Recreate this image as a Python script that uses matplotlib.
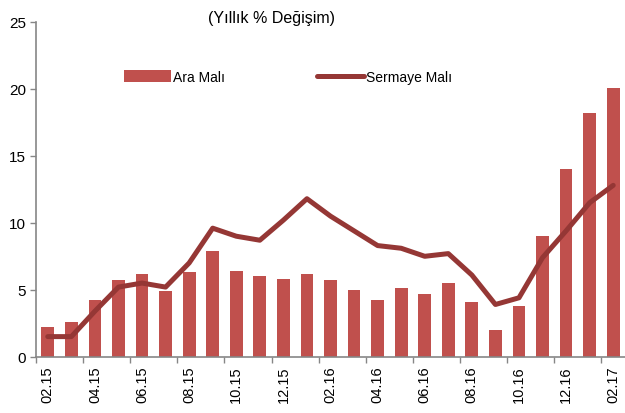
import numpy as np
import matplotlib
matplotlib.use('Agg')
from matplotlib import pyplot as plt

plt.rcParams['font.family'] = ['Liberation Sans', 'DejaVu Sans']

# aylar 02.15 - 02.17
months = ['02.15', '03.15', '04.15', '05.15', '06.15', '07.15', '08.15', '09.15', '10.15',
          '11.15', '12.15', '01.16', '02.16', '03.16', '04.16', '05.16', '06.16', '07.16',
          '08.16', '09.16', '10.16', '11.16', '12.16', '01.17', '02.17']
ara_mali = [2.2, 2.6, 4.2, 5.7, 6.2, 4.9, 6.3, 7.9, 6.4, 6.0, 5.8, 6.2,
            5.7, 5.0, 4.2, 5.1, 4.7, 5.5, 4.1, 2.0, 3.8, 9.0, 14.0, 18.2, 20.1]
sermaye_mali = [1.5, 1.5, 3.4, 5.2, 5.5, 5.2, 7.0, 9.6, 9.0, 8.7, 10.2, 11.8,
                10.5, 9.4, 8.3, 8.1, 7.5, 7.7, 6.1, 3.9, 4.4, 7.4, 9.4, 11.5, 12.8]

x = np.arange(len(months))

fig = plt.figure(figsize=(6.25, 4.14), dpi=100)
ax = fig.add_axes([36/625, 1-357.7/414, 1-36/625, (357.7-23)/414])

bar_color = '#C0504D'
line_color = '#953735'
bars = ax.bar(x, ara_mali, width=0.54, color=bar_color, label='Ara Malı', zorder=2)
line, = ax.plot(x, sermaye_mali, color=line_color, lw=3.6, solid_capstyle='round',
                solid_joinstyle='round', label='Sermaye Malı', zorder=3)

ax.set_xlim(-0.5, 24.5)
ax.set_ylim(0, 25)
ax.set_yticks([0, 5, 10, 15, 20, 25])
ax.tick_params(axis='y', length=4, width=1, color='#868686', labelsize=11, pad=3)

# tick marks between categories, labels on every second month
ax.set_xticks(np.arange(-0.5, 24, 2))
ax.set_xticklabels([])
ax.tick_params(axis='x', which='major', length=4, width=1, color='#868686')
ax.set_xticks(x[::2], minor=True)
ax.set_xticklabels(months[::2], minor=True, rotation=90, fontsize=10.5)
ax.tick_params(axis='x', which='minor', length=0, pad=6)

for s in ['top', 'right']:
    ax.spines[s].set_visible(False)
ax.spines['left'].set_color('#868686')
ax.spines['bottom'].set_color('#868686')
ax.spines['left'].set_linewidth(1.2)
ax.spines['bottom'].set_linewidth(1.2)

fig.text(272/625, 1-18/414, '(Yıllık % Değişim)', ha='center', va='center', fontsize=11.5)

ax.legend([bars, line], ['Ara Malı', 'Sermaye Malı'], loc='center left',
          bbox_to_anchor=(124/625, 1-78/414), bbox_transform=fig.transFigure,
          ncol=2, frameon=False, fontsize=10, handlelength=3.4, handleheight=0.9,
          handletextpad=0.15, columnspacing=6.6, borderaxespad=0, borderpad=0)

plt.savefig('out.png', dpi=100)
